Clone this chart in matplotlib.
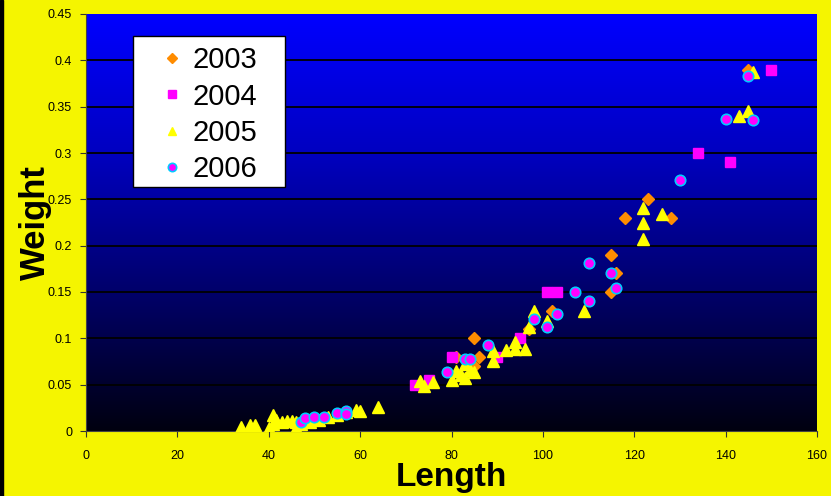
import numpy as np
import matplotlib
matplotlib.use("Agg")
import matplotlib.pyplot as plt
from matplotlib.colors import LinearSegmentedColormap

plt.rcParams['font.family'] = ['Liberation Sans', 'DejaVu Sans']

# ---- data ----
x2003 = [145, 123, 118, 128, 115, 116, 115, 102, 97, 85, 86, 85, 81]
y2003 = [0.39, 0.25, 0.23, 0.23, 0.19, 0.17, 0.15, 0.13, 0.11, 0.10, 0.08, 0.07, 0.08]

x2004 = [150, 134, 141, 101, 103, 95, 80, 90, 75, 72]
y2004 = [0.39, 0.30, 0.29, 0.15, 0.15, 0.10, 0.08, 0.08, 0.055, 0.05]

x2005 = [146, 145, 143, 122, 122, 122, 126, 109, 98, 101, 97, 94, 94, 96, 92, 89, 89,
         80, 81, 82, 83, 84, 85, 83, 73, 74, 76,
         34, 36, 37, 40, 41, 41.5, 41, 43, 44, 45, 46, 46, 47, 49, 51, 53, 55, 57, 59, 60, 64]
y2005 = [0.387, 0.345, 0.34, 0.241, 0.224, 0.207, 0.234, 0.129, 0.129, 0.119, 0.112, 0.096,
         0.089, 0.089, 0.087, 0.086, 0.076,
         0.055, 0.065, 0.06, 0.057, 0.066, 0.064, 0.072, 0.054, 0.049, 0.053,
         0.004, 0.007, 0.006, 0.003, 0.017, 0.012, 0.008, 0.010, 0.011, 0.011, 0.010, 0.003,
         0.008, 0.010, 0.012, 0.015, 0.017, 0.020, 0.023, 0.022, 0.026]

x2006 = [145, 140, 146, 130, 110, 115, 116, 107, 110, 103, 98, 101, 88, 83, 84, 79,
         47, 48, 50, 52, 55, 57, 57]
y2006 = [0.383, 0.337, 0.336, 0.271, 0.181, 0.171, 0.154, 0.150, 0.140, 0.126, 0.121, 0.112,
         0.093, 0.078, 0.078, 0.064, 0.010, 0.014, 0.015, 0.015, 0.019, 0.022, 0.018]

xticks = [0, 20, 40, 60, 80, 100, 120, 140, 160]
yticks = [0, 0.05, 0.1, 0.15, 0.2, 0.25, 0.3, 0.35, 0.4, 0.45]
ytick_labels = ['0', '0.05', '0.1', '0.15', '0.2', '0.25', '0.3', '0.35', '0.4', '0.45']

W, H = 831, 496
fig = plt.figure(figsize=(W / 100, H / 100), dpi=100, facecolor='#F5F500')
# black strip at left edge
fig.patches.append(plt.Rectangle((0, 0), 3.5 / W, 1, transform=fig.transFigure,
                                 color='black', zorder=0))

ax = fig.add_axes([86 / W, 1 - 431 / H, (817 - 86) / W, (431 - 14) / H])
ax.set_xlim(0, 160)
ax.set_ylim(0, 0.45)

cmap = LinearSegmentedColormap.from_list('bg', ['#000010', '#00006a', '#0000C0', '#0000FF'])
grad = np.linspace(0, 1, 256).reshape(-1, 1)
ax.imshow(grad, cmap=cmap, extent=[0, 1, 0, 1], transform=ax.transAxes,
          aspect='auto', origin='lower', zorder=0)

for yv in yticks[1:-1]:
    ax.axhline(yv, color='black', lw=1.3, zorder=1)

ax.plot(x2003, y2003, 'D', color='#FF8C00', ms=6.5, mec='#FF8C00', ls='none', zorder=3, label='2003')
ax.plot(x2004, y2004, 's', color='#FF00FF', ms=6.5, mec='#FF00FF', ls='none', zorder=3, label='2004')
ax.plot(x2005, y2005, '^', color='#FFFF00', ms=8, mec='#FFFF00', ls='none', zorder=3, label='2005')
ax.plot(x2006, y2006, 'o', color='#FF00FF', ms=7.5, mec='#00CCFF', mew=1.2, ls='none', zorder=4, label='2006')

ax.set_xticks(xticks)
ax.set_yticks(yticks)
ax.set_yticklabels(ytick_labels)
ax.tick_params(axis='both', labelsize=9, length=4, color='#333333', direction='out', pad=6)
ax.tick_params(axis='x', pad=10)
for s in ['top', 'right']:
    ax.spines[s].set_visible(False)
ax.spines['left'].set_color('#444444')
ax.spines['bottom'].set_color('#444444')

ax.set_xlabel('Length', fontsize=24, fontweight='bold', labelpad=0)
ax.set_ylabel('Weight', fontsize=25, fontweight='bold', labelpad=-3)

# legend box drawn explicitly
box = plt.Rectangle((133 / W, 1 - 187 / H), (285 - 133) / W, (187 - 36) / H,
                    transform=fig.transFigure, facecolor='white', edgecolor='black',
                    lw=1.0, zorder=5, clip_on=False)
ax.add_artist(box)
leg = ax.legend(loc='upper left', bbox_to_anchor=(157 / W, 1 - 46.5 / H),
                bbox_transform=fig.transFigure, borderaxespad=0, borderpad=0,
                fontsize=21, frameon=False, markerscale=0.8,
                handlelength=1.0, handletextpad=0.22, labelspacing=0.28)
leg.set_zorder(6)

fig.savefig('out.png', dpi=100, facecolor=fig.get_facecolor())
